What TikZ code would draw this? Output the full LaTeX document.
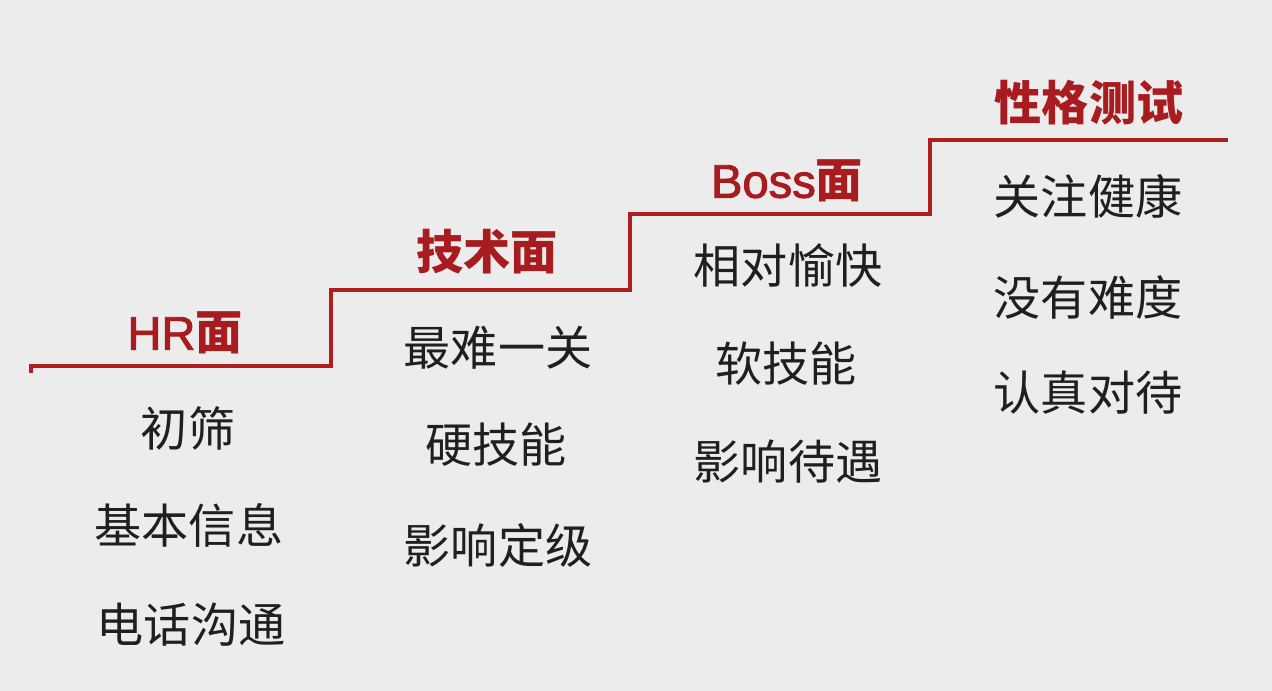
\documentclass[tikz,border=0pt]{standalone}
\usepackage{fontspec}
\setmainfont{Noto Sans CJK SC}
\newfontfamily\latinfont[FakeBold=2]{Liberation Sans}
\usepackage{xcolor}
\usetikzlibrary{positioning}
\definecolor{stairred}{HTML}{B01E22}
\definecolor{titlered}{HTML}{A81C20}
\definecolor{bggray}{HTML}{ECECEC}
\newcommand{\lat}[1]{{\mdseries\latinfont #1}}

\begin{document}
\begin{tikzpicture}[x=0.01cm, y=-0.01cm,
    title/.style={text=titlered, font=\fontsize{13.4}{16}\selectfont\bfseries},
    item/.style={text=black!88, font=\fontsize{13.4}{16}\selectfont}]
        \fill[bggray] (0,0) rectangle (1272,691);
        \useasboundingbox (0,0) rectangle (1272,691);
        \coordinate (s0) at (31,373);
        \coordinate (s1) at (31,366);
        \coordinate (s2) at (331,366);
        \coordinate (s3) at (331,290);
        \coordinate (s4) at (630,290);
        \coordinate (s5) at (630,214);
        \coordinate (s6) at (930,214);
        \coordinate (s7) at (930,140);
        \coordinate (s8) at (1228,140);
        \draw[stairred, line width=1.2pt] (s0) -- (s1) -- (s2) -- (s3) -- (s4) -- (s5) -- (s6) -- (s7) -- (s8);
        \node[title] (hr) at (185,333) {\lat{HR}面};
        \node[title] (tech) at (487,252) {技术面};
        \node[title] (boss) at (787,181) {\lat{Boss}面};
        \node[title] (pers) at (1089,103) {性格测试};
        \node[item] (hr1) at (188,428) {初筛};
        \node[item] (hr2) at (189,525) {基本信息};
        \node[item] (hr3) at (191,625) {电话沟通};
        \node[item] (tech1) at (498,348) {最难一关};
        \node[item] (tech2) at (496,445) {硬技能};
        \node[item] (tech3) at (498,545) {影响定级};
        \node[item] (boss1) at (788,266) {相对愉快};
        \node[item] (boss2) at (786,364) {软技能};
        \node[item] (boss3) at (788,462) {影响待遇};
        \node[item] (pers1) at (1088,196) {关注健康};
        \node[item] (pers2) at (1088,298) {没有难度};
        \node[item] (pers3) at (1088,393) {认真对待};
    \end{tikzpicture}
\end{document}
